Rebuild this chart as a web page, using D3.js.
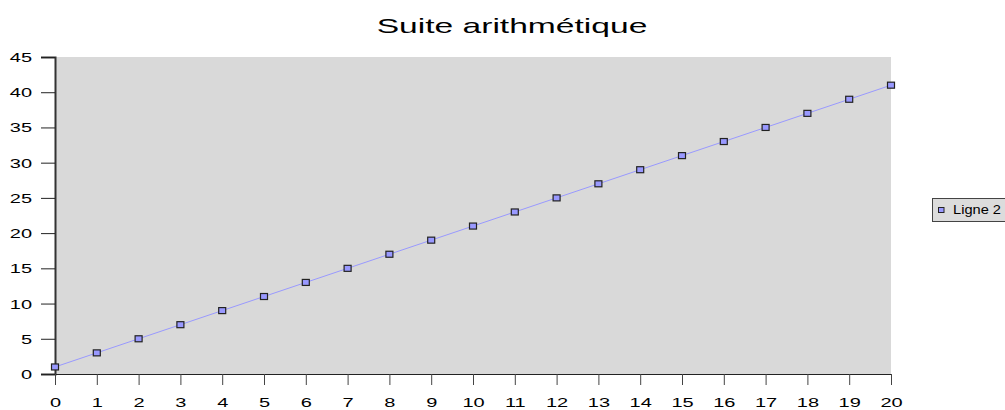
<!DOCTYPE html>
<html><head><meta charset="utf-8">
<script src="https://cdn.jsdelivr.net/npm/d3@7"></script>
<style>body{margin:0;background:#fff;} text{font-family:"Liberation Sans",Arial,sans-serif;}</style>
</head><body><svg id="c" width="1005" height="410"></svg>
<script>
const categories = [0,1,2,3,4,5,6,7,8,9,10,11,12,13,14,15,16,17,18,19,20];
const values = [1,3,5,7,9,11,13,15,17,19,21,23,25,27,29,31,33,35,37,39,41];
const yTicks = [0,5,10,15,20,25,30,35,40,45];
const seriesName = "Ligne 2";
const title = "Suite arithmétique";

const SX = 1.6; // horizontal stretch of the reference's lettering
const svg = d3.select("#c");
const L = 55, R = 891, T = 57, B = 374;
const x = d3.scaleLinear().domain([0,20]).range([L,R]);
const y = d3.scaleLinear().domain([0,45]).range([B,T]);

svg.append("rect").attr("x",L).attr("y",T).attr("width",R-L).attr("height",B-T).attr("fill","#d9d9d9");

svg.append("text").attr("transform",`translate(512,33) scale(${SX},1)`).attr("text-anchor","middle")
  .attr("font-size",21).attr("fill","#000").text(title);

// Y axis
const ya = svg.append("g").attr("transform",`translate(${L},0)`)
  .call(d3.axisLeft(y).tickValues(yTicks).tickSize(14).tickFormat(d3.format("d")));
ya.select(".domain").attr("stroke","#333").attr("stroke-width",2);
ya.selectAll(".tick line").attr("stroke","#222");
ya.selectAll("text").attr("x",0).attr("dy",null)
  .attr("transform",`translate(-23,4.5) scale(${SX},1)`)
  .attr("font-size",12.5).attr("fill","#000").style("font-family","Liberation Sans, Arial, sans-serif");

// X axis
const xa = svg.append("g").attr("transform",`translate(0,${B})`)
  .call(d3.axisBottom(x).tickValues(categories).tickSize(11).tickFormat(d3.format("d")));
xa.select(".domain").attr("d",`M${L-14},0.5H${R}`).attr("stroke","#222");
xa.selectAll(".tick line").attr("stroke","#444");
xa.selectAll("text").attr("y",0).attr("dy",null)
  .attr("transform",`translate(0,33) scale(${SX},1)`)
  .attr("font-size",12.5).attr("fill","#000").style("font-family","Liberation Sans, Arial, sans-serif");

// line
svg.append("path").datum(values)
  .attr("d", d3.line().x((d,i)=>x(categories[i])).y(d=>y(d)))
  .attr("fill","none").attr("stroke","#9999ff").attr("stroke-width",1);

svg.selectAll("rect.pt").data(values).enter().append("rect").attr("class","pt")
  .attr("x",(d,i)=>x(categories[i])-3.5).attr("y",d=>y(d)-3)
  .attr("width",7).attr("height",6)
  .attr("fill","#9999ff").attr("stroke","#222").attr("stroke-width",1.2);

// legend
const lg = svg.append("g");
lg.append("rect").attr("x",932.5).attr("y",198.5).attr("width",90).attr("height",23)
  .attr("fill","#dcdcdc").attr("stroke","#444");
lg.append("rect").attr("x",938.5).attr("y",207.5).attr("width",5.5).attr("height",5)
  .attr("fill","#9999ff").attr("stroke","#222");
lg.append("text").attr("transform",`translate(953,214) scale(1.22,1)`)
  .attr("font-size",12).attr("fill","#000").text(seriesName);
</script></body></html>
